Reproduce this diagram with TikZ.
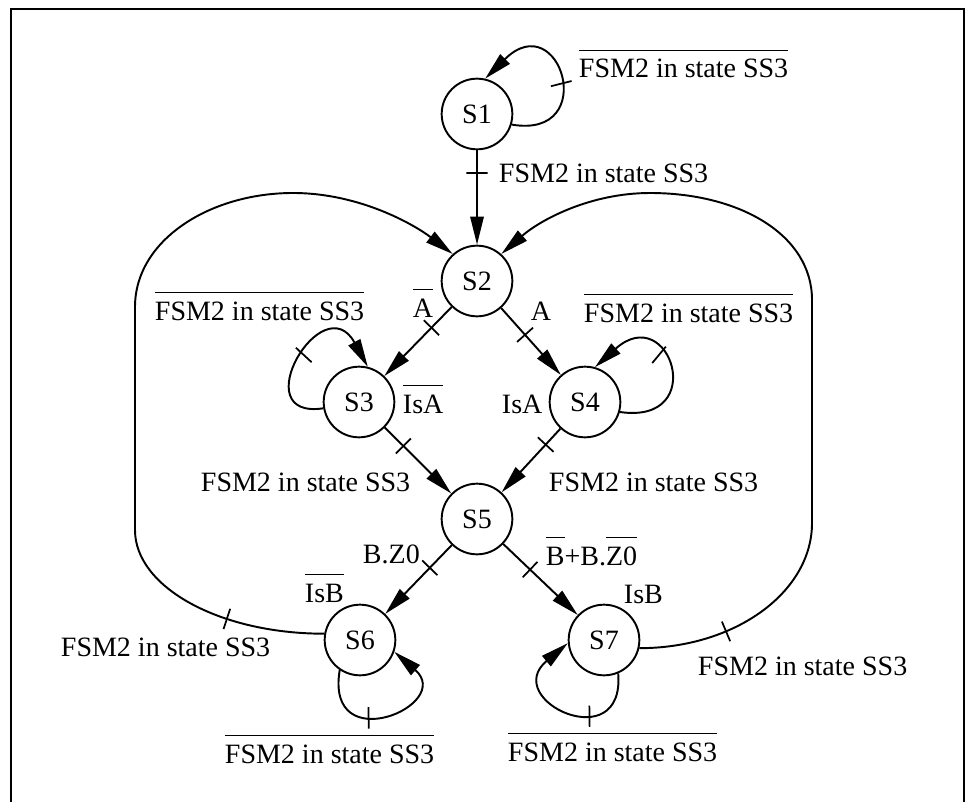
\documentclass[tikz,border=0pt]{standalone}
\usepackage{fontspec}
\setmainfont{Liberation Serif}
\usetikzlibrary{arrows.meta}
\newcommand{\ovl}[1]{\leavevmode\vbox{\hrule height 0.9pt\kern 6.5pt\hbox{#1}}}
\begin{document}
\begin{tikzpicture}[x=0.75pt, y=-0.75pt, line width=1.45pt, >={Triangle[length=21pt,width=10pt]}]
\tikzset{stnode/.style={draw, circle, minimum size=53pt, inner sep=0pt},
  lab/.style={anchor=base west, inner sep=0pt},
  tick/.style={sloped, draw, line width=1.3pt, inner sep=0pt, minimum width=0pt, minimum height=16pt}}
\tikzset{every node/.append style={font=\fontsize{21}{25}\selectfont}}
\useasboundingbox (0,0) rectangle (966,802);
\draw[line width=2.2pt] (11,802) -- (11,9) -- (964,9) -- (964,802);
%% guide lines of the two return loops
\def \xleft {135}
\def \xright {812}
\def \ytop {193}

%% states
\node[stnode] (s1) at (477,114) {S1};
\node[stnode] (s2) at (477,281) {S2};
\node[stnode] (s3) at (359,402) {S3};
\node[stnode] (s4) at (585,402) {S4};
\node[stnode] (s5) at (477,519) {S5};
\node[stnode] (s6) at (360,640) {S6};
\node[stnode] (s7) at (604,640) {S7};

% paths
\draw[->] (s1) -- node[tick, pos=0.24] {} (s2);
\draw[->] (s2) -- node[tick, pos=0.3] {} (s3);
\draw[->] (s2) -- node[tick, pos=0.4] {} (s4);
\draw[->] (s3) -- node[tick, pos=0.28] {} (s5);
\draw[->] (s4) -- node[tick, pos=0.25] {} (s5);
\draw[->] (s5) -- node[tick, pos=0.33] {} (s6);
\draw[->] (s5) -- node[tick, pos=0.36] {} (s7);

% self loops
\draw[->] (s1.-17) .. controls +(89,15) and +(75,-74) .. (s1.77) node[tick, pos=0.47] {};
\draw[->] (s3.190) .. controls +(-80,12) and +(-45,-82) .. (s3.76) node[tick, pos=0.55] {};
\draw[->] (s4.-16) .. controls +(90,13) and +(75,-67) .. (s4.74) node[tick, pos=0.63] {};
\draw[->] (s6.-124) .. controls +(-15,90) and +(61,53) .. (s6.-19) node[tick, pos=0.39] {};
\draw[->] (s7.-67) .. controls +(7,85) and +(-68,57) .. (s7.185) node[tick, pos=0.36] {};

% return loops
\draw[->] (s6.170) .. controls +(-105,0) and +(0,57) .. (\xleft,530) node[tick, pos=0.34] {}
  -- (\xleft,307) .. controls +(0,-67) and +(-83,0) .. (293,\ytop)
  .. controls +(67,0) and +(-38,-29) .. (s2.132);
\draw[->] (s7.-13) .. controls +(96,0) and +(0,69) .. (\xright,523) node[tick, pos=0.33] {}
  -- (\xright,300) .. controls +(0,-65) and +(90,0) .. (650,\ytop)
  .. controls +(-60,0) and +(39,-34) .. (s2.48);

% node labels
\node[lab] (l1loop) at (578,78) {\ovl{FSM2 in state SS3}};
\node[lab] (l12) at (498,183) {FSM2 in state SS3};
\node[lab] (l3loop) at (154,320) {\ovl{FSM2 in state SS3}};
\node[lab] (l23) at (412,317) {\ovl{A}};
\node[lab] (l24) at (530,320) {A};
\node[lab] (l4loop) at (583,322) {\ovl{FSM2 in state SS3}};
\node[lab] (o3) at (402,413) {\ovl{IsA}};
\node[lab] (o4) at (501,413) {IsA};
\node[lab] (l35) at (200,491) {FSM2 in state SS3};
\node[lab] (l45) at (548,491) {FSM2 in state SS3};
\node[lab] (l56) at (362,563) {B.Z0};
\node[lab] (l57) at (545,565) {\ovl{B}+B.\ovl{Z0}};
\node[lab] (o6) at (304,602) {\ovl{IsB}};
\node[lab] (o7) at (623,603) {IsB};
\node[lab] (l62) at (60,656) {FSM2 in state SS3};
\node[lab] (l72) at (697,675) {FSM2 in state SS3};
\node[lab] (l6loop) at (224,763) {\ovl{FSM2 in state SS3}};
\node[lab] (l7loop) at (507,761) {\ovl{FSM2 in state SS3}};
\end{tikzpicture}
\end{document}
